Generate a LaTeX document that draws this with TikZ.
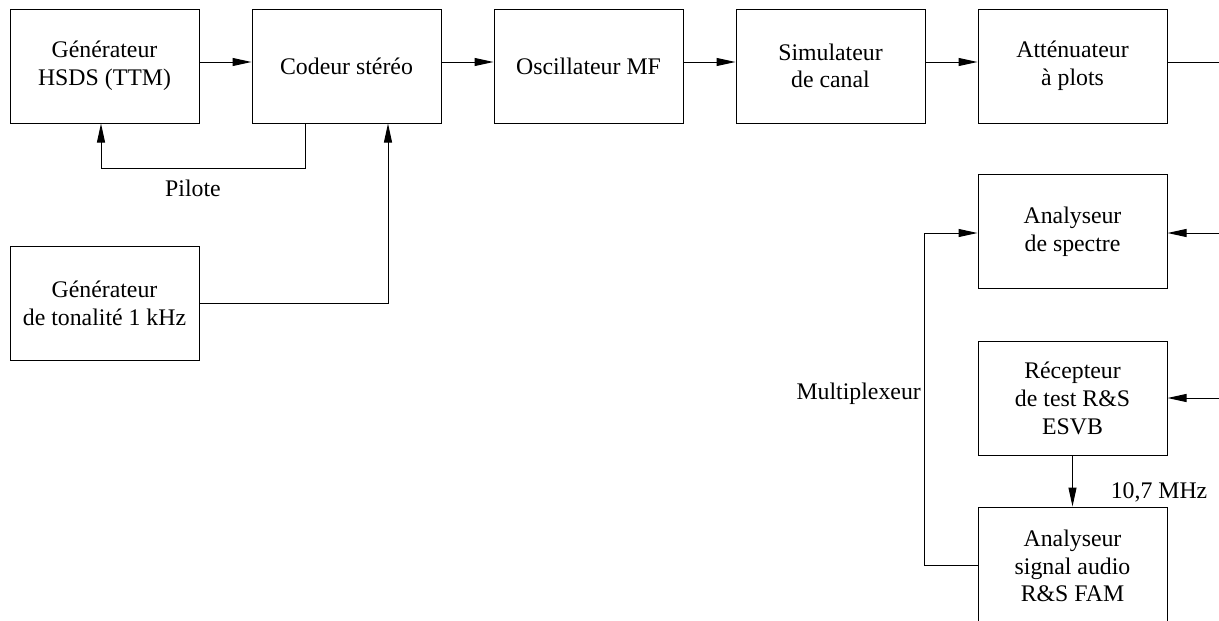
\documentclass[tikz,border=0pt]{standalone}
\usepackage{fontspec}
\setmainfont{Liberation Serif}
\usetikzlibrary{arrows.meta}
\begin{document}
\begin{tikzpicture}[x=1pt,y=-1pt,
  blk/.style={draw, line width=1pt, minimum width=189pt, minimum height=114pt, inner sep=0pt, align=center, font=\fontsize{23.8}{27.6}\selectfont},
  lbl/.style={font=\fontsize{23.8}{27.6}\selectfont, inner sep=0pt},
  con/.style={line width=1pt},
  arr/.style={con, -{Triangle[length=19pt,width=8pt]}}]
\useasboundingbox (0,0) rectangle (1219,621);
\node[blk] (gen) at (104.5,66) {Générateur\\HSDS (TTM)};
\node[blk] (cod) at (346.5,66) {Codeur stéréo};
\node[blk] (osc) at (588.5,66) {Oscillateur MF};
\node[blk] (sim) at (830.5,66) {Simulateur\\de canal};
\node[blk] (att) at (1072.5,66) {Atténuateur\\à plots};
\node[blk] (ton) at (104.5,303.5) {Générateur\\de tonalité 1 kHz};
\node[blk] (spe) at (1072.5,231.5) {Analyseur\\de spectre};
\node[blk] (rec) at (1072.5,398.5) {Récepteur\\de test R\&S\\ESVB};
\node[blk, minimum height=118pt] (fam) at (1072.5,566) {Analyseur\\signal audio\\R\&S FAM};
\coordinate (outA) at (1219,62);
\coordinate (inS) at (1219,233);
\coordinate (inR) at (1219,398);
\node[lbl] (pil) at (193,188) {Pilote};
\node[lbl, anchor=east] (mux) at (921,394) {Multiplexeur};
\node[lbl] (mhz) at (1159,492) {10,7 MHz};
\draw[arr] ([yshift=4pt]gen.east) -- ([yshift=4pt]cod.west);
\draw[arr] ([yshift=4pt]cod.east) -- ([yshift=4pt]osc.west);
\draw[arr] ([yshift=4pt]osc.east) -- ([yshift=4pt]sim.west);
\draw[arr] ([yshift=4pt]sim.east) -- ([yshift=4pt]att.west);
\draw[con] ([yshift=4pt]att.east) -- (outA);
\draw[arr] ([xshift=-41.5pt]cod.south) -- ++(0,45) -| ([xshift=-3.5pt]gen.south);
\draw[arr] (ton.east) -| ([xshift=41.5pt]cod.south);
\draw[arr] (inS) -- (inS -| spe.east);
\draw[arr] (inR) -- (inR -| rec.east);
\draw[arr] (rec.south) -- (fam.north);
\draw[arr] ([yshift=1pt]fam.west) -- ++(-53,0) |- ([yshift=-1.5pt]spe.west);
\end{tikzpicture}
\end{document}
